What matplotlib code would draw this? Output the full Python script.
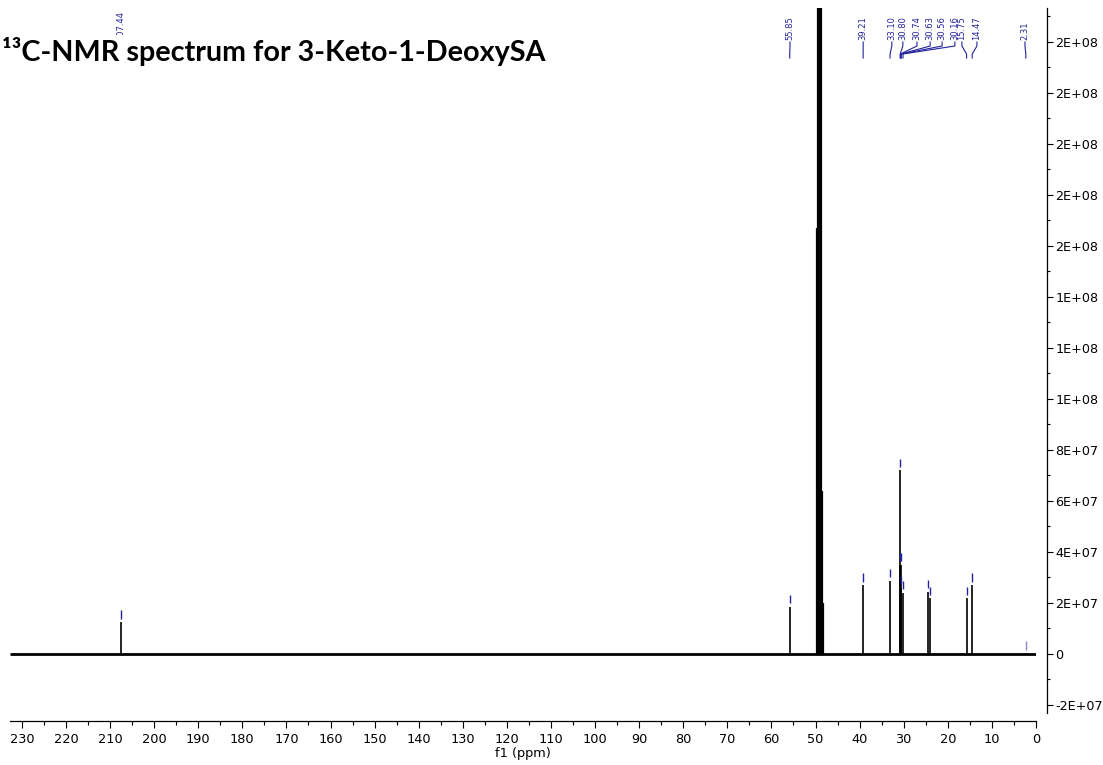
import matplotlib
matplotlib.use("Agg")
import matplotlib.pyplot as plt
from matplotlib.ticker import MultipleLocator, FuncFormatter
from matplotlib.transforms import blended_transform_factory
from matplotlib.patches import Rectangle
from matplotlib.lines import Line2D

# ---------------- data ----------------
title = "¹³C-NMR spectrum for 3-Keto-1-DeoxySA"
xlabel = "f1 (ppm)"

peak_ppm = [207.44, 55.85, 39.21, 33.10, 30.80, 30.74, 30.63, 30.56, 30.16,
            24.50, 24.00, 15.75, 14.47, 2.31]
peak_height = [1.25e7, 1.84e7, 2.70e7, 2.86e7, 7.20e7, 3.50e7, 2.60e7, 3.50e7,
               2.40e7, 2.44e7, 2.18e7, 2.18e7, 2.70e7, 0.3e6]

solvent_ppm = [49.64, 49.43, 49.21, 49.00, 48.79, 48.57, 48.36]
solvent_height = [1.67e8, 3.0e8, 4.0e8, 4.3e8, 3.0e8, 6.4e7, 2.0e7]

label_text = ["207.44", "55.85", "39.21", "33.10", "30.80", "30.74", "30.63",
              "30.56", "30.16", "15.75", "14.47", "2.31"]
label_peak = [207.44, 55.85, 39.21, 33.10, 30.80, 30.74, 30.63, 30.56, 30.16,
              15.75, 14.47, 2.31]
# horizontal position (ppm) where each rotated label is printed
label_x = [207.5, 55.8, 39.2, 32.7, 30.2, 27.0, 24.0, 21.3, 18.4, 16.8, 13.4, 2.5]

xlim = (232.7, 0.0)
ylim = (-2.314e7, 2.533e8)

# ---------------- figure ----------------
W, H = 1103, 765
fig = plt.figure(figsize=(W / 100, H / 100), dpi=100)
ax = fig.add_axes([10 / W, 52 / H, 1026 / W, 705 / H])
ax.set_facecolor("none")

blue = "#23239c"

# baseline
ax.plot(list(xlim), [0, 0], color="black", lw=2.0, solid_capstyle="butt", zorder=2)
# peaks
ax.vlines(peak_ppm, 0, peak_height, color="black", lw=1.2, zorder=3)
ax.vlines(solvent_ppm, 0, solvent_height, color="black", lw=1.6, zorder=3)
# peak markers
for p, h in zip(peak_ppm, peak_height):
    a = 0.55 if h < 1e6 else 1.0
    ax.vlines([p], h + 1.4e6, h + 4.6e6, color=blue, lw=1.0, alpha=a, zorder=4)

ax.set_xlim(*xlim)
ax.set_ylim(*ylim)

# axes style
for s in ("left", "top"):
    ax.spines[s].set_visible(False)
ax.spines["right"].set_position(("outward", 8))
ax.spines["bottom"].set_position(("outward", 6))
ax.spines["right"].set_linewidth(0.9)
ax.spines["bottom"].set_linewidth(0.9)
ax.yaxis.tick_right()

ax.xaxis.set_major_locator(MultipleLocator(10))
ax.xaxis.set_minor_locator(MultipleLocator(5))
ax.xaxis.set_major_formatter(FuncFormatter(lambda v, p: "%d" % round(v)))
ax.yaxis.set_major_locator(MultipleLocator(2e7))
ax.yaxis.set_minor_locator(MultipleLocator(1e7))


def yfmt(v, p):
    if abs(v) < 1:
        return "0"
    return "%.0E" % v


ax.yaxis.set_major_formatter(FuncFormatter(yfmt))

ax.tick_params(axis="x", which="major", length=4.7, width=0.8, pad=4, labelsize=9.3)
ax.tick_params(axis="x", which="minor", length=2.8, width=0.8)
ax.tick_params(axis="y", which="major", length=4.3, width=0.8, pad=1.5, labelsize=9.2)
ax.tick_params(axis="y", which="minor", length=2.2, width=0.8)
ax.set_xlabel(xlabel, fontsize=9.3, labelpad=0.5)

# peak labels with leader lines
tr = blended_transform_factory(ax.transData, fig.transFigure)


def fy(px):
    return 1 - px / H


for txt, pk, lx in zip(label_text, label_peak, label_x):
    ax.text(lx, fy(40), txt, transform=tr, rotation=90, ha="center", va="bottom",
            fontsize=6, color=blue, clip_on=False, zorder=5)
    xs = [lx, lx, pk, pk]
    ys = [fy(42), fy(46), fy(54), fy(58)]
    ax.add_line(Line2D(xs, ys, transform=tr, color=blue, lw=0.8, clip_on=False, zorder=5))

# title over a white box (covers part of the first label)
fig.add_artist(Rectangle((0, fy(72)), 548 / W, 37 / H, transform=fig.transFigure,
                         facecolor="white", edgecolor="none", zorder=4))
fig.text(2 / W, fy(61), title, fontfamily="Lato", fontweight="bold", fontsize=20.7,
         va="baseline", ha="left", zorder=5)

fig.savefig("out.png", dpi=100)
